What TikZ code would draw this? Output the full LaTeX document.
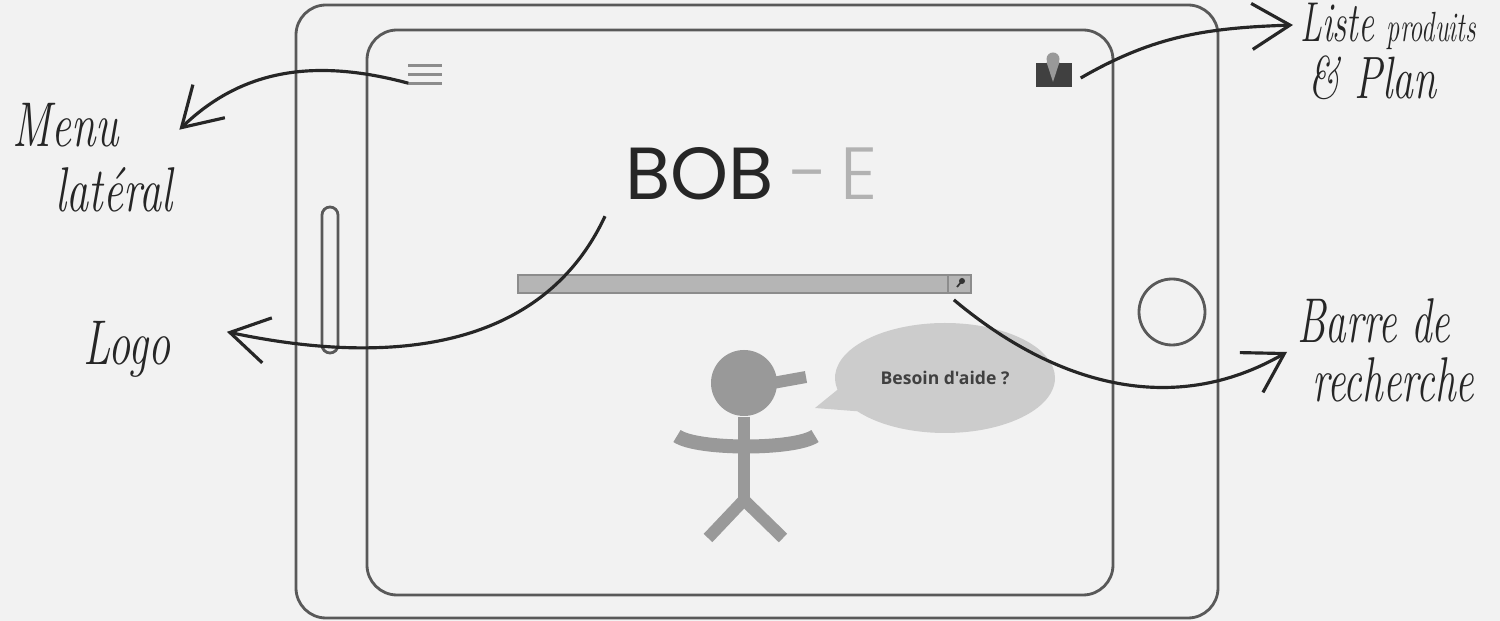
\documentclass[tikz,border=0pt]{standalone}
\usepackage{fontspec}
\usetikzlibrary{positioning,arrows.meta,shapes.callouts,calc}
\newfontfamily\logofont{Poppins}
\newfontfamily\logothin{Poppins Light}
\newfontfamily\bubblefont{Open Sans}

\begin{document}
\begin{tikzpicture}[>={Straight Barb[length=3.8mm,width=4.6mm]}]
    \tikzset{
        frame/.style={draw=black!65, line width=0.8pt},
        hand/.style={font=\fontsize{18}{22}\selectfont\itshape, inner sep=0pt,
            anchor=base west, xscale=0.7, text=black!85},
        note/.style={line width=0.9pt, black!85, ->},
        limb/.style={line width=1.2mm, black!40}
    }
    \useasboundingbox (0,0) rectangle (15,-6.21);
    \fill[black!5] (0,0) rectangle (15,-6.21);

    % tablet body, screen, side slot and home button
    \draw[frame, rounded corners=3mm] (2.96,-0.05) rectangle (12.18,-6.18);
    \draw[frame, rounded corners=3mm] (3.67,-0.30) rectangle (11.13,-5.95);
    \draw[frame, rounded corners=0.8mm] (3.22,-2.07) rectangle (3.38,-3.53);
    \node[frame, circle, minimum size=0.66cm] (homebtn) at (11.72,-3.12) {};

    % menu icon
    \node[minimum width=0.32cm, minimum height=0.16cm, inner sep=0pt] (burger) at (4.25,-0.745) {};
    \foreach \yy in {0,0.5,1}
        \draw[black!45, line width=0.9pt] ($(burger.north west)!\yy!(burger.south west)$)
            -- ($(burger.north east)!\yy!(burger.south east)$);

    % map icon
    \node[fill=black!75, minimum width=0.36cm, minimum height=0.24cm, inner sep=0pt] (mapicon) at (10.54,-0.75) {};
    \fill[black!40] (10.53,-0.59) circle (0.065);
    \fill[black!40] (10.465,-0.62) -- (10.595,-0.62) -- (10.53,-0.82) -- cycle;

    % logo
    \node[anchor=base west, inner sep=0pt, font=\logofont\fontsize{21}{24}\selectfont] (logo) at (6.25,-2.0)
        {\textcolor{black!85}{BOB}\hspace{1.6mm}\textcolor{black!30}{\logothin -\hspace{1.2mm}E}};

    % search bar
    \node[fill=black!29, draw=black!45, line width=0.5pt, minimum width=4.53cm,
        minimum height=0.18cm, inner sep=0pt] (search) at (7.445,-2.84) {};
    \draw[black!45, line width=0.5pt] ([xshift=-2.4mm]search.north east) -- ([xshift=-2.4mm]search.south east);
    \fill[black!80] (9.62,-2.81) circle (0.03);
    \draw[black!80, line width=0.5pt] (9.62,-2.81) -- (9.57,-2.87);

    % stick figure
    \node[circle, fill=black!40, minimum size=0.66cm, inner sep=0pt] (head) at (7.44,-3.83) {};
    \draw[limb] (head.south) -- (7.44,-5.0);
    \draw[limb, line join=miter] (7.08,-5.38) -- (7.44,-5.0) -- (7.83,-5.38);
    \draw[limb, line width=1.4mm] (6.77,-4.36) .. controls (6.97,-4.5) and (7.95,-4.5) .. (8.15,-4.36);
    \draw[limb] ([xshift=-0.5mm]head.east) -- (8.06,-3.77);

    % speech bubble
    \node[ellipse callout, fill=black!20, minimum width=2.2cm, minimum height=1.1cm,
        callout absolute pointer={(8.15,-4.08)}, callout pointer arc=25,
        font=\bubblefont\bfseries\fontsize{5}{6}\selectfont, text=black!75] (bubble) at (9.45,-3.78) {Besoin d'aide ?};

    % notes
    \node[hand] (menu) at (0.12,-1.47) {Menu};
    \node[hand] (lateral) at (0.55,-2.12) {latéral};
    \node[hand] (logolbl) at (0.83,-3.65) {Logo};
    \node[hand, xscale=0.9, font=\fontsize{16}{18}\selectfont\itshape] (liste) at (13.0,-0.42)
        {Liste {\fontsize{12}{14}\selectfont produits}};
    \node[hand, font=\fontsize{17}{20}\selectfont\itshape] (plan) at (13.08,-0.99) {\& Plan};
    \node[hand, xscale=0.93] (barre) at (12.97,-3.43) {Barre de};
    \node[hand, xscale=0.93] (recherche) at (13.12,-4.02) {recherche};

    \draw[note] (burger.south west) to[out=165, in=44] ([xshift=6mm,yshift=-0.4mm]menu.east);
    \draw[note] ([xshift=-2mm,yshift=-1.5mm]logo.south west) to[out=245, in=-12] ([xshift=5.6mm,yshift=1.8mm]logolbl.east);
    \draw[note] ([xshift=0.8mm,yshift=-0.3mm]mapicon.east) to[out=30, in=182] ([xshift=-0.7mm,yshift=1.7mm]liste.base west);
    \draw[note] ([xshift=-1.8mm,yshift=-0.6mm]search.south east) to[out=-40, in=210] ([xshift=-1mm,yshift=-0.9mm]barre.base west);
\end{tikzpicture}
\end{document}
